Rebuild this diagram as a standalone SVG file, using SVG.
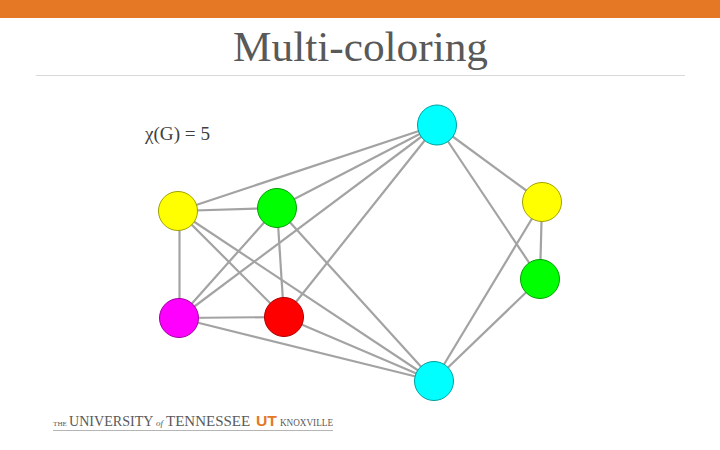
<svg xmlns="http://www.w3.org/2000/svg" width="720" height="450" viewBox="0 0 720 450">
<style>
.t{font-family:"Liberation Serif","DejaVu Serif",serif;fill:#595959}
.n{stroke-width:1}
#edges line{stroke:#a3a3a3;stroke-width:2.2}
</style>
<rect width="720" height="450" fill="#fff"/>
<rect width="720" height="18" fill="#e57825"/>
<text class="t" x="233" y="61" font-size="42" textLength="255" lengthAdjust="spacingAndGlyphs">Multi-coloring</text>
<rect x="36" y="75" width="649" height="1" fill="#d9d9d9"/>
<text class="t" x="145" y="140" font-size="18" textLength="65" lengthAdjust="spacingAndGlyphs" style="fill:#404040">χ(G) = 5</text>
<g id="edges">
<line x1="437" y1="125" x2="178" y2="211"/>
<line x1="437" y1="125" x2="277" y2="208"/>
<line x1="437" y1="125" x2="179" y2="318"/>
<line x1="437" y1="125" x2="284" y2="317"/>
<line x1="437" y1="125" x2="542" y2="202"/>
<line x1="437" y1="125" x2="540" y2="279"/>
<line x1="434" y1="381" x2="178" y2="211"/>
<line x1="434" y1="381" x2="277" y2="208"/>
<line x1="434" y1="381" x2="179" y2="318"/>
<line x1="434" y1="381" x2="284" y2="317"/>
<line x1="434" y1="381" x2="542" y2="202"/>
<line x1="434" y1="381" x2="540" y2="279"/>
<line x1="178" y1="211" x2="277" y2="208"/>
<line x1="179.500" y1="211" x2="179.500" y2="318"/>
<line x1="178" y1="211" x2="284" y2="317"/>
<line x1="277" y1="208" x2="179" y2="318"/>
<line x1="277" y1="208" x2="284" y2="317"/>
<line x1="179" y1="318" x2="284" y2="317"/>
<line x1="542" y1="202" x2="540" y2="279"/>
</g>
<g id="node-cyan-top"><ellipse class="n" cx="437" cy="125" rx="19.500" ry="20" fill="#00ffff" stroke="#00a0a0"/></g>
<g id="node-yellow-left"><circle class="n" cx="178" cy="211" r="19.500" fill="#ffff00" stroke="#a0a000"/></g>
<g id="node-green-left"><circle class="n" cx="277" cy="208" r="19.500" fill="#00ff00" stroke="#00a000"/></g>
<g id="node-magenta"><circle class="n" cx="179" cy="318" r="19.500" fill="#ff00ff" stroke="#a000a0"/></g>
<g id="node-red"><circle class="n" cx="284" cy="317" r="19.500" fill="#ff0000" stroke="#b00000"/></g>
<g id="node-cyan-bottom"><circle class="n" cx="434" cy="381" r="19.500" fill="#00ffff" stroke="#00a0a0"/></g>
<g id="node-yellow-right"><circle class="n" cx="542" cy="202" r="19.500" fill="#ffff00" stroke="#a0a000"/></g>
<g id="node-green-right"><circle class="n" cx="540" cy="279" r="19.500" fill="#00ff00" stroke="#00a000"/></g>
<g id="logo">
<text class="t" x="53" y="426" font-size="7" textLength="14" lengthAdjust="spacingAndGlyphs">THE</text>
<text class="t" transform="translate(69 426) scale(.94 1)" font-size="15">UNIVERSITY</text>
<text class="t" x="156" y="426" font-size="9" font-style="italic">of</text>
<text class="t" x="166" y="426" font-size="15">TENNESSEE</text>
<text x="256" y="426" font-size="15" font-weight="bold" fill="#e57825" font-family="'Liberation Sans',sans-serif" textLength="21" lengthAdjust="spacingAndGlyphs">UT</text>
<text class="t" x="280" y="426" font-size="9.500" textLength="53" lengthAdjust="spacingAndGlyphs">KNOXVILLE</text>
<rect x="53" y="430" width="280" height="1" fill="#b5b5b5"/>
</g>
</svg>
